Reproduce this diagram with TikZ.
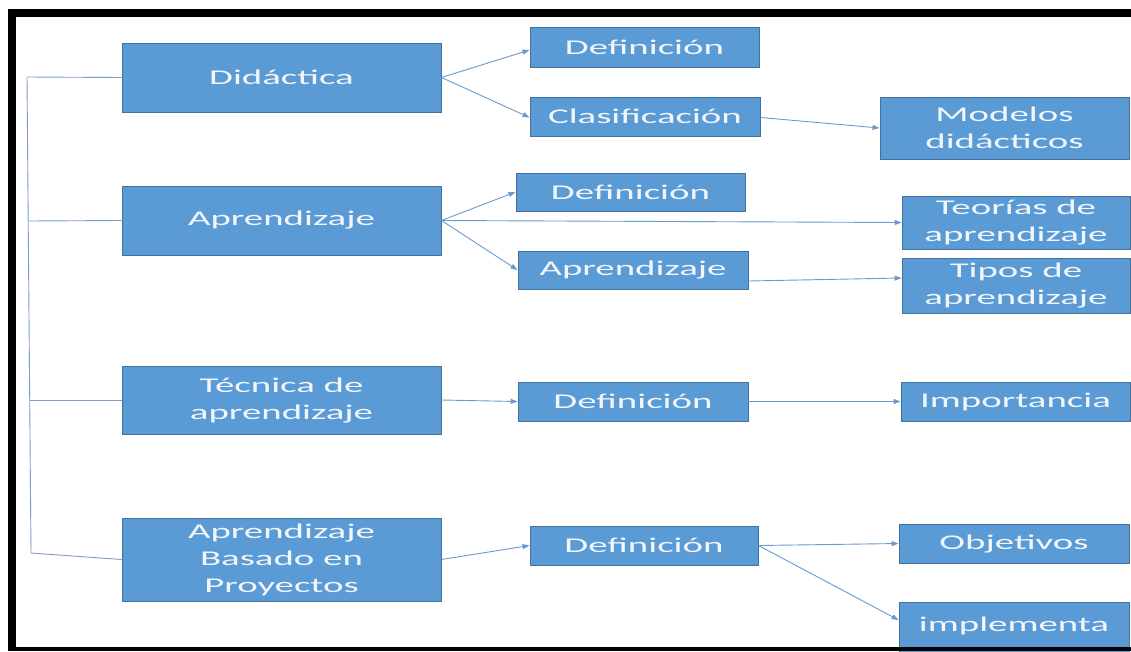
\documentclass[tikz,border=0pt]{standalone}
\usepackage{fontspec}
\setmainfont{Carlito}[FakeStretch=1.85]
\usetikzlibrary{arrows.meta,calc}
\definecolor{boxfill}{HTML}{5B9BD5}
\definecolor{boxline}{HTML}{41719C}
\definecolor{conn}{HTML}{6A9BD0}
\definecolor{brk}{HTML}{7F9DC4}
\definecolor{txt}{HTML}{F2F6FB}
\tikzset{
  box/.style={draw=boxline, line width=0.9pt, fill=boxfill, text=txt, align=center,
    inner sep=0pt, font=\fontsize{21}{27}\selectfont},
  conline/.style={draw=conn, line width=0.9pt, -{Triangle[length=7pt,width=5pt]}},
  brline/.style={draw=brk, line width=0.9pt}
}
\begin{document}
\begin{tikzpicture}[x=1pt,y=-1pt]
\clip (0,0) rectangle (1131,651);
\fill[white] (0,0) rectangle (1131,651);
% main boxes
\node[box, minimum width=319, minimum height=69] (did) at (281.5,77.5) {Didáctica};
\node[box, minimum width=319, minimum height=69] (apr) at (281.5,220.5) {Aprendizaje};
\node[box, minimum width=319, minimum height=68] (tec) at (281.5,400) {Técnica de\\aprendizaje};
\node[box, minimum width=319, minimum height=83] (abp) at (281.5,559.5) {Aprendizaje\\Basado en\\Proyectos};
% second column
\node[box, minimum width=229, minimum height=40] (def1) at (644.5,47) {Definición};
\node[box, minimum width=230, minimum height=39] (cla) at (645,116.5) {Clasificación};
\node[box, minimum width=229, minimum height=38] (def2) at (630.5,192) {Definición};
\node[box, minimum width=230, minimum height=38] (apr2) at (633,270) {Aprendizaje};
\node[box, minimum width=230, minimum height=39] (def3) at (633,401.5) {Definición};
\node[box, minimum width=228, minimum height=39] (def4) at (644,545.5) {Definición};
% third column
\node[box, minimum width=249, minimum height=62] (mod) at (1004.5,128) {Modelos\\didácticos};
\node[box, minimum width=228, minimum height=53] (teo) at (1016,222.5) {Teorías de\\aprendizaje};
\node[box, minimum width=228, minimum height=55] (tip) at (1016,285.5) {Tipos de\\aprendizaje};
\node[box, minimum width=229, minimum height=39] (imp) at (1015.5,401.5) {Importancia};
\node[box, minimum width=230, minimum height=39] (obj) at (1014,543.5) {Objetivos};
\node[box, minimum width=230, minimum height=70, anchor=north] (impl) at (1014,602) {implementa\\\phantom{x}};
% bracket
\coordinate (bt) at (27,77);
\coordinate (b2) at (28,221);
\coordinate (b3) at (29.5,400);
\coordinate (bb) at (31,553);
\draw[brline] (bt) -- (bb);
\draw[brline] (bt) -- (did.west);
\draw[brline] (b2) -- (apr.west);
\draw[brline] (b3) -- (tec.west);
\draw[brline] (bb) -- (abp.west);
% connectors
\draw[conline] (did.east) -- ([yshift=-3pt]def1.west);
\draw[conline] (did.east) -- ([yshift=-1pt]cla.west);
\draw[conline] ([yshift=-1pt]cla.east) -- (mod.west);
\draw[conline] (apr.east) -- (def2.west);
\draw[conline] (apr.east) -- (apr2.west);
\draw[conline] (apr.east) -- (teo.west);
\draw[conline] ([yshift=-11pt]apr2.east) -- ([yshift=7.5pt]tip.west);
\draw[conline] (tec.east) -- (def3.west);
\draw[conline] (def3.east) -- (imp.west);
\draw[conline] (abp.east) -- (def4.west);
\draw[conline] (def4.east) -- (obj.west);
\draw[conline] (def4.east) -- ($(impl.north west)+(0,18)$);
% black frame
\fill[black] (8,9) rectangle (1131,17);
\fill[black] (8,9) rectangle (16,651);
\fill[black] (8,647) rectangle (1131,651);
\end{tikzpicture}
\end{document}
